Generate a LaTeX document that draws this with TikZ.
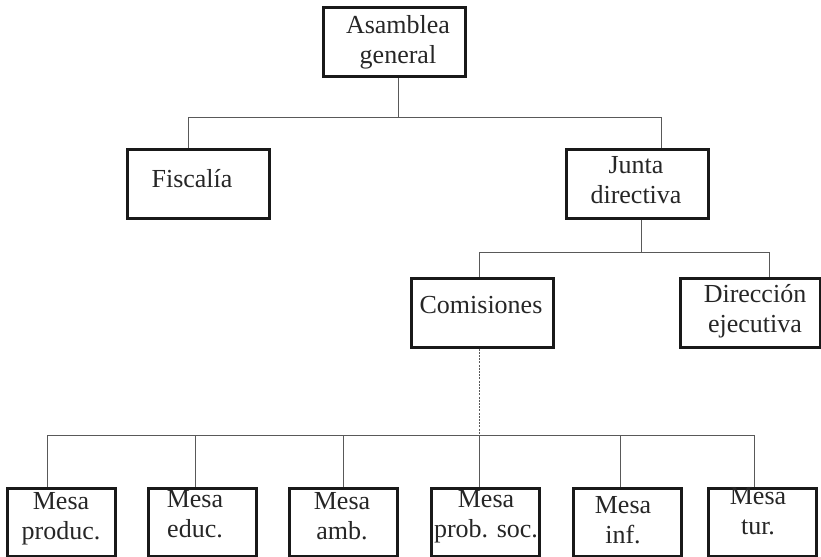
\documentclass[tikz,border=0pt]{standalone}
\usepackage{fontspec}
\setmainfont{Liberation Serif}
\newcommand{\mklines}[2]{\begin{tabular}[t]{@{}c@{}}#1\\#2\end{tabular}}
\begin{document}
\begin{tikzpicture}[x=0.5pt,y=-0.5pt,
  box/.style={draw=black!90, line width=1.5pt, minimum width=71pt, minimum height=34.5pt, inner sep=0pt},
  smallbox/.style={box, minimum width=54pt, minimum height=34pt},
  lbl/.style={anchor=base, inner sep=0pt, font=\fontsize{13}{15}\selectfont, text=black!85},
  conn/.style={draw=black!65, line width=0.5pt},
  dotconn/.style={draw=black!65, line width=0.5pt, dash pattern=on 1pt off 0.6pt}
]
\useasboundingbox (0,0) rectangle (821,557);

% boxes
\node[box] (asm) at (394,41.5) {};
\node[box] (fis) at (198,184) {};
\node[box] (jun) at (637,184) {};
\node[box] (com) at (482,312.5) {};
\node[box, minimum width=70pt] (dir) at (750,312.5) {};
\node[smallbox] (m1) at (61,522) {};
\node[smallbox] (m2) at (202,522) {};
\node[smallbox] (m3) at (343,522) {};
\node[smallbox] (m4) at (485,522) {};
\node[smallbox] (m5) at (627.5,522) {};
\node[smallbox] (m6) at (762.5,522) {};

% texts
\node[lbl] (asmT) at (398,33) {\mklines{Asamblea}{general}};
\node[lbl] (fisT) at (192,187) {Fiscalía};
\node[lbl] (junT) at (636,173) {\mklines{Junta}{directiva}};
\node[lbl] (comT) at (481,313) {Comisiones};
\node[lbl] (dirT) at (755,302) {\mklines{Dirección}{ejecutiva}};
\node[lbl] (m1T) at (61,509) {\mklines{Mesa}{produc.}};
\node[lbl] (m2T) at (195,507) {\mklines{Mesa}{educ.}};
\node[lbl] (m3T) at (342,509) {\mklines{Mesa}{amb.}};
\node[lbl] (m4T) at (486,507) {\mklines{Mesa}{prob. soc.}};
\node[lbl] (m5T) at (623,513) {\mklines{Mesa}{inf.}};
\node[lbl] (m6T) at (758,504) {\mklines{Mesa}{tur.}};

% bus coordinates
\coordinate (tA) at (398,117);
\coordinate (tL) at (188,117);
\coordinate (tR) at (661,117);
\coordinate (mJ) at (641,252);
\coordinate (mL) at (479,252);
\coordinate (mR) at (769,252);
\coordinate (bC) at (479,435);
\coordinate (b1) at (47,435);
\coordinate (b2) at (195,435);
\coordinate (b3) at (343,435);
\coordinate (b5) at (620,435);
\coordinate (b6) at (754,435);

% connectors
\draw[conn] (asm.south -| tA) -- (tA);
\draw[conn] (fis.north -| tL) -- (tL) -- (tR) -- (jun.north -| tR);
\draw[conn] (jun.south -| mJ) -- (mJ);
\draw[conn] (com.north -| mL) -- (mL) -- (mR) -- (dir.north -| mR);
\draw[dotconn] (com.south -| bC) -- (bC);
\draw[conn] (m1.north -| b1) -- (b1) -- (b6) -- (m6.north -| b6);
\draw[conn] (b2) -- (m2.north -| b2);
\draw[conn] (b3) -- (m3.north -| b3);
\draw[conn] (bC) -- (m4.north -| bC);
\draw[conn] (b5) -- (m5.north -| b5);
\end{tikzpicture}
\end{document}
